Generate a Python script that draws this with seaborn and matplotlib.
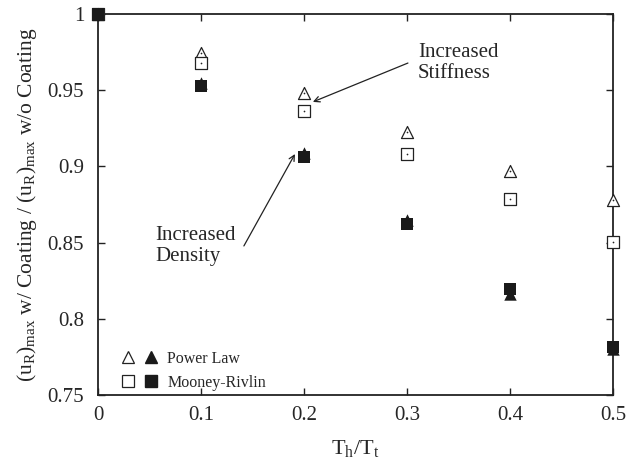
import pandas as pd
import matplotlib
matplotlib.use("Agg")
from matplotlib import pyplot as plt
from matplotlib.lines import Line2D
from matplotlib.legend_handler import HandlerTuple
import seaborn as sns

# T_h/T_t and normalised max radial displacement
thickness = [0.0, 0.1, 0.2, 0.3, 0.4, 0.5]
power_stiff = [1.0, 0.9746, 0.948, 0.9228, 0.8972, 0.878]
mooney_stiff = [1.0, 0.9676, 0.9364, 0.9079, 0.8784, 0.8506]
power_dens = [1.0, 0.9545, 0.9085, 0.8650, 0.8160, 0.7805]
mooney_dens = [1.0, 0.9528, 0.9064, 0.8620, 0.8194, 0.7817]

sns.set_style("ticks")
plt.rcParams['font.family'] = ['Liberation Serif', 'DejaVu Serif']
plt.rcParams['mathtext.default'] = 'regular'

fig = plt.figure(figsize=(6.26, 4.65), dpi=100)
ax = fig.add_axes([0.1565, 0.1505, 0.8225, 0.8195])

df = pd.DataFrame({'t': thickness, 'ps': power_stiff, 'ms': mooney_stiff,
                   'pd': power_dens, 'md': mooney_dens})

common = dict(data=df, x='t', ax=ax, clip_on=False, legend=False, zorder=3)
sns.scatterplot(y='ps', marker='^', s=75, facecolor='white', edgecolor='#222222', linewidth=0.9, **common)
sns.scatterplot(y='ms', marker='s', s=70, facecolor='white', edgecolor='#222222', linewidth=0.9, **common)
sns.scatterplot(y='ps', marker='o', s=1.5, color='#222222', linewidth=0, **common)
sns.scatterplot(y='ms', marker='o', s=1.5, color='#222222', linewidth=0, **common)
sns.scatterplot(y='pd', marker='^', s=80, color='#1a1a1a', linewidth=0, **common)
sns.scatterplot(y='md', marker='s', s=85, color='#1a1a1a', linewidth=0, **common)

ax.set_xlim(0, 0.5)
ax.set_ylim(0.75, 1.0)
ax.set_xticks([0, 0.1, 0.2, 0.3, 0.4, 0.5])
ax.set_xticklabels(['0', '0.1', '0.2', '0.3', '0.4', '0.5'])
ax.set_yticks([0.75, 0.8, 0.85, 0.9, 0.95, 1.0])
ax.set_yticklabels(['0.75', '0.8', '0.85', '0.9', '0.95', '1'])
ax.tick_params(direction='in', top=True, right=True, length=5, width=1,
               labelsize=15, color='#222222')
ax.tick_params(axis='y', pad=10)
ax.tick_params(axis='x', pad=8)
for sp in ax.spines.values():
    sp.set_linewidth(1.3)
    sp.set_color('#222222')

ax.set_xlabel('T$_h$/T$_t$', fontsize=16, labelpad=9)
ax.set_ylabel('(u$_R$)$_{max}$ w/ Coating / (u$_R$)$_{max}$ w/o Coating', fontsize=15.5, labelpad=6)

arrow = dict(arrowstyle='->', color='#222222', lw=0.9, shrinkA=0, shrinkB=0)
ax.text(0.3107, 0.981, 'Increased\nStiffness', fontsize=15, va='top', ha='left', linespacing=1.15)
ax.annotate('', xy=(0.2087, 0.9423), xytext=(0.301, 0.9678), arrowprops=arrow)
ax.text(0.0553, 0.861, 'Increased\nDensity', fontsize=15, va='top', ha='left', linespacing=1.15)
ax.annotate('', xy=(0.1913, 0.9081), xytext=(0.1417, 0.8478), arrowprops=arrow)

h_open_tri = Line2D([], [], ls='none', marker='^', ms=8, mfc='white', mec='#222222', mew=0.9)
h_fill_tri = Line2D([], [], ls='none', marker='^', ms=8, color='#1a1a1a')
h_open_sq = Line2D([], [], ls='none', marker='s', ms=8, mfc='white', mec='#222222', mew=0.9)
h_fill_sq = Line2D([], [], ls='none', marker='s', ms=8.5, color='#1a1a1a')
ax.legend([(h_open_tri, h_fill_tri), (h_open_sq, h_fill_sq)], ['Power Law', 'Mooney-Rivlin'],
          handler_map={tuple: HandlerTuple(ndivide=None, pad=0.6)},
          loc='lower left', bbox_to_anchor=(0.017, -0.026), frameon=False, fontsize=11.5,
          handlelength=2.3, handletextpad=0.6, labelspacing=0.5)

fig.savefig('out.png', dpi=100)
